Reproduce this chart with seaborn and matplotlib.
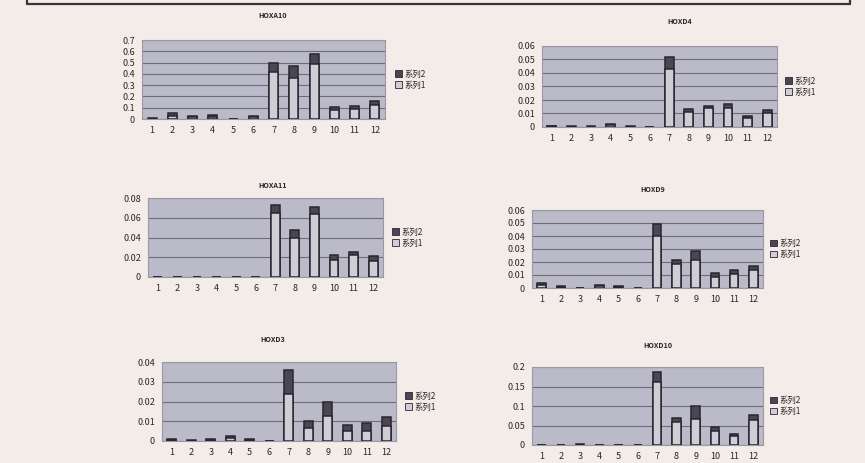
import matplotlib
matplotlib.use("Agg")
import matplotlib.pyplot as plt
from matplotlib.lines import Line2D
from matplotlib.patches import Patch
import numpy as np
import pandas as pd
import seaborn as sns

sns.set_theme(style="white")
plt.rcParams["font.family"] = ["Noto Sans CJK SC", "DejaVu Sans"]

samples = [str(i) for i in range(1, 13)]

# 系列1 (lower segment) and 系列2 (upper segment) per gene
hoxa10_s1 = [0.003, 0.03, 0.015, 0.02, 0.0, 0.018, 0.42, 0.36, 0.487, 0.08, 0.086, 0.124]
hoxa10_s2 = [0.002, 0.02, 0.01, 0.015, 0.0, 0.012, 0.073, 0.113, 0.089, 0.029, 0.029, 0.038]

hoxd4_s1 = [0.0007, 0.0003, 0.0003, 0.0013, 0.0003, 0.0, 0.0427, 0.011, 0.014, 0.0139, 0.0067, 0.0107]
hoxd4_s2 = [0.0003, 0.0002, 0.0002, 0.0007, 0.0002, 0.0, 0.0093, 0.0022, 0.0019, 0.003, 0.0012, 0.0017]

hoxa11_s1 = [0.0, 0.0, 0.0, 0.0, 0.0, 0.0, 0.065, 0.0398, 0.064, 0.0174, 0.0224, 0.0167]
hoxa11_s2 = [0.0, 0.0, 0.0, 0.0, 0.0, 0.0, 0.0083, 0.0077, 0.007, 0.0044, 0.003, 0.0041]

hoxd9_s1 = [0.0026, 0.001, 0.0, 0.0013, 0.001, 0.0, 0.040, 0.0188, 0.0214, 0.0085, 0.011, 0.0137]
hoxd9_s2 = [0.0015, 0.0005, 0.0, 0.0007, 0.0005, 0.0, 0.009, 0.0026, 0.0072, 0.0034, 0.0029, 0.0036]

hoxd3_s1 = [0.0006, 0.0002, 0.0006, 0.0013, 0.0006, 0.0, 0.0237, 0.0064, 0.0128, 0.005, 0.0052, 0.0074]
hoxd3_s2 = [0.0004, 0.0001, 0.0004, 0.0012, 0.0004, 0.0, 0.0121, 0.0037, 0.0069, 0.0031, 0.0037, 0.0049]

hoxd10_s1 = [0.0, 0.0, 0.0012, 0.0, 0.0, 0.0, 0.161, 0.058, 0.067, 0.035, 0.022, 0.065]
hoxd10_s2 = [0.0, 0.0, 0.0008, 0.0, 0.0, 0.0, 0.026, 0.0116, 0.033, 0.010, 0.005, 0.013]

genes = ["HOXA10", "HOXD4", "HOXA11", "HOXD9", "HOXD3", "HOXD10"]
series1 = [hoxa10_s1, hoxd4_s1, hoxa11_s1, hoxd9_s1, hoxd3_s1, hoxd10_s1]
series2 = [hoxa10_s2, hoxd4_s2, hoxa11_s2, hoxd9_s2, hoxd3_s2, hoxd10_s2]
y_max = [0.7, 0.06, 0.08, 0.06, 0.04, 0.2]
y_step = [0.1, 0.01, 0.02, 0.01, 0.01, 0.05]

W, H = 865, 463
page = "#f4ece9"

# plot-area boxes in pixels: left, top, right, bottom
boxes = [
    (142, 40, 385, 119),
    (542, 46, 777, 127),
    (148, 198, 383, 277),
    (532, 210, 763, 288),
    (162, 362, 396, 441),
    (532, 367, 763, 445),
]
titles_xy = [(273, 15), (680, 22), (273, 185), (653, 190), (273, 340), (658, 345)]
legend_x = [395, 785, 392, 770, 405, 770]

fig = plt.figure(figsize=(W / 100, H / 100), dpi=100)
fig.patch.set_facecolor(page)

# frame of the box above the charts
fig.add_artist(Line2D([27 / W, 850 / W], [1 - 4 / H, 1 - 4 / H], color="#3a3536", lw=1.6))
fig.add_artist(Line2D([27 / W, 27 / W], [1, 1 - 4 / H], color="#3a3536", lw=1.6))
fig.add_artist(Line2D([850 / W, 850 / W], [1, 1 - 4 / H], color="#3a3536", lw=1.6))

dark = "#4b4654"
light = "#cfcdd6"
edge = "#2a2630"
plot_bg = "#bbbac9"


def tick_text(v):
    s = "{:.2f}".format(v).rstrip("0").rstrip(".")
    return s if s else "0"


for k, gene in enumerate(genes):
    l, t, r, b = boxes[k]
    ax = fig.add_axes([l / W, 1 - b / H, (r - l) / W, (b - t) / H])
    ax.set_facecolor(plot_bg)
    df = pd.DataFrame({
        "sample": samples,
        "s1": series1[k],
        "total": np.array(series1[k]) + np.array(series2[k]),
    })
    sns.barplot(data=df, x="sample", y="total", color=dark, width=0.45,
                edgecolor=edge, linewidth=1.1, saturation=1, ax=ax, zorder=3)
    sns.barplot(data=df, x="sample", y="s1", color=light, width=0.45,
                edgecolor=edge, linewidth=1.1, saturation=1, ax=ax, zorder=3)
    ax.set_ylim(0, y_max[k])
    ax.set_xlim(-0.5, 11.5)
    ticks = np.arange(0, y_max[k] + y_step[k] / 2, y_step[k])
    ax.set_yticks(ticks)
    ax.set_yticklabels([tick_text(v) for v in ticks])
    ax.yaxis.grid(True, color="#6e6c78", lw=0.8, zorder=0)
    ax.set_axisbelow(True)
    ax.set_xlabel("")
    ax.set_ylabel("")
    ax.tick_params(axis="both", length=0, labelsize=6.5, colors="#2b2628", pad=5)
    for s in ax.spines.values():
        s.set_color("#9a98a4")
        s.set_linewidth(0.8)
    fig.text(titles_xy[k][0] / W, 1 - titles_xy[k][1] / H, gene, ha="center",
             va="center", fontsize=5.2, fontweight="bold", color="#2b2628")
    handles = [Patch(facecolor=dark, edgecolor=edge, lw=0.6, label="系列2"),
               Patch(facecolor=light, edgecolor=edge, lw=0.6, label="系列1")]
    ax.legend(handles=handles, loc="center left",
              bbox_to_anchor=((legend_x[k] - l) / (r - l), 0.5),
              frameon=False, fontsize=6, handlelength=0.8, handleheight=0.8,
              handletextpad=0.3, labelspacing=0.25, borderaxespad=0,
              borderpad=0, labelcolor="#2b2628")

fig.savefig("out.png", dpi=100, facecolor=page)
